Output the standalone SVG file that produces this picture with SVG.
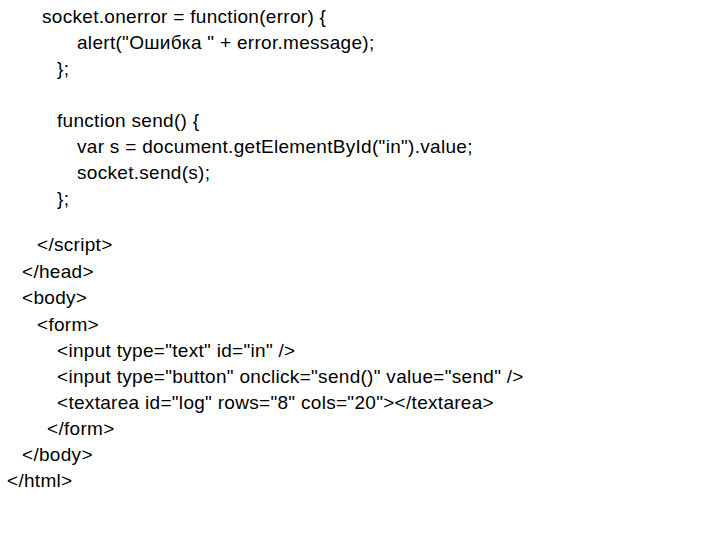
<svg xmlns="http://www.w3.org/2000/svg" width="720" height="540" viewBox="0 0 720 540">
<style>text{font-family:"Liberation Sans",Arial,sans-serif;font-size:19px;letter-spacing:0.3px;fill:#000}</style>
<rect width="720" height="540" fill="#fff"/>
<g id="code">
<text x="42" y="23">socket.onerror = function(error) {</text>
<text x="77" y="49">alert("Ошибка " + error.message);</text>
<text x="57" y="75">};</text>
<text x="57" y="127">function send() {</text>
<text x="77" y="153">var s = document.getElementById("in").value;</text>
<text x="77" y="179">socket.send(s);</text>
<text x="57" y="205">};</text>
<text x="37" y="251">&lt;/script&gt;</text>
<text x="22" y="278">&lt;/head&gt;</text>
<text x="22" y="304">&lt;body&gt;</text>
<text x="37" y="331">&lt;form&gt;</text>
<text x="57" y="357">&lt;input type="text" id="in" /&gt;</text>
<text x="57" y="383">&lt;input type="button" onclick="send()" value="send" /&gt;</text>
<text x="57" y="409">&lt;textarea id="log" rows="8" cols="20"&gt;&lt;/textarea&gt;</text>
<text x="47" y="435">&lt;/form&gt;</text>
<text x="22" y="461">&lt;/body&gt;</text>
<text x="7" y="487">&lt;/html&gt;</text>
</g>
</svg>
